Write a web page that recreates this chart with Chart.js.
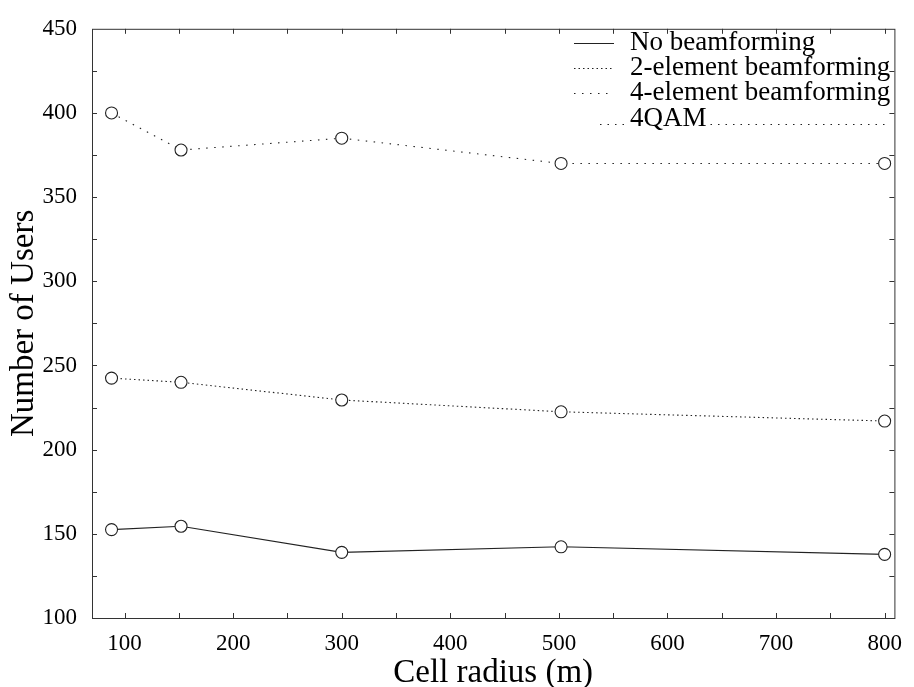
<!DOCTYPE html>
<html>
<head>
<meta charset="utf-8">
<title>Number of Users vs Cell radius</title>
<script src="https://cdn.jsdelivr.net/npm/chart.js@4.4.1/dist/chart.umd.min.js"></script>
<style>
    html, body { margin: 0; padding: 0; background: #fff; }
    #usersChart { display: block; }
</style>
</head>
<body>
<canvas id="usersChart" width="914" height="687"></canvas>
<script>
// Cell radius (m) for each simulation point
const cellRadius = [88, 152, 300, 502, 800];

// Number of users, 4QAM
const noBeamforming = [152.5, 154.5, 139, 142.3, 137.8];
const twoElement = [242.5, 240, 229.5, 222.5, 217];
const fourElement = [400, 378, 385, 370, 370];

const xTicks = [100, 200, 300, 400, 500, 600, 700, 800];
const yTicks = [100, 150, 200, 250, 300, 350, 400, 450];
const legendLabels = ['No beamforming', '2-element beamforming', '4-element beamforming', '4QAM'];

const SERIF = "'Liberation Serif', 'DejaVu Serif', serif";
const INK = '#222';

function toPoints(values) {
    return values.map((v, i) => ({ x: cellRadius[i], y: v }));
}

function series(label, values, dash) {
    return {
        label,
        data: toPoints(values),
        borderColor: INK,
        borderWidth: 1.1,
        borderDash: dash,
        tension: 0,
        pointRadius: 6,
        pointStyle: 'circle',
        pointBorderColor: INK,
        pointBorderWidth: 1.1,
        pointBackgroundColor: '#fff'
    };
}

// frame with inward ticks on all four sides
const framePlugin = {
    id: 'frame',
    afterDraw(chart) {
        const { ctx, chartArea: a, scales } = chart;
        ctx.save();
        ctx.strokeStyle = '#333';
        ctx.lineWidth = 1;
        ctx.setLineDash([]);
        ctx.strokeRect(a.left + 0.5, a.top + 0.5, a.right - a.left, a.bottom - a.top);
        ctx.beginPath();
        for (let v = 100; v <= 800; v += 50) {
            const px = Math.round(scales.x.getPixelForValue(v)) + 0.5;
            ctx.moveTo(px, a.bottom); ctx.lineTo(px, a.bottom - 5);
            ctx.moveTo(px, a.top); ctx.lineTo(px, a.top + 5);
        }
        for (let v = 125; v < 450; v += 25) {
            const py = Math.round(scales.y.getPixelForValue(v)) + 0.5;
            ctx.moveTo(a.left, py); ctx.lineTo(a.left + 5, py);
            ctx.moveTo(a.right, py); ctx.lineTo(a.right - 5, py);
        }
        ctx.stroke();
        ctx.restore();
    }
};

// legend inside the plot, top right
const legendPlugin = {
    id: 'insideLegend',
    afterDraw(chart) {
        const { ctx } = chart;
        const sets = chart.data.datasets;
        const lineX0 = 574, lineX1 = 614, textX = 630;
        const rowY = [43, 68, 93, 119];
        ctx.save();
        ctx.font = `27px ${SERIF}`;
        ctx.textBaseline = 'middle';
        ctx.fillStyle = '#000';
        legendLabels.forEach((label, i) => {
            const y = rowY[i];
            ctx.strokeStyle = INK;
            ctx.lineWidth = 1.1;
            if (i < sets.length) {
                ctx.setLineDash(sets[i].borderDash || []);
                ctx.beginPath();
                ctx.moveTo(lineX0, y + 0.5);
                ctx.lineTo(lineX1, y + 0.5);
                ctx.stroke();
            } else {
                // 4QAM row: dotted rule broken by the label
                const w = ctx.measureText(label).width;
                ctx.setLineDash([1.5, 6]);
                ctx.beginPath();
                ctx.moveTo(600, y + 5.5); ctx.lineTo(textX - 3, y + 5.5);
                ctx.moveTo(textX + w + 4, y + 5.5); ctx.lineTo(888, y + 5.5);
                ctx.stroke();
            }
            ctx.setLineDash([]);
            ctx.fillText(label, textX, y);
        });
        ctx.restore();
    }
};

const tickFont = { family: SERIF, size: 23 };

new Chart(document.getElementById('usersChart').getContext('2d'), {
    type: 'line',
    data: {
        datasets: [
            series(legendLabels[0], noBeamforming, []),
            series(legendLabels[1], twoElement, [1.5, 3]),
            series(legendLabels[2], fourElement, [1.5, 6.5])
        ]
    },
    options: {
        responsive: false,
        animation: false,
        layout: { padding: { top: 17, right: 10, left: 0, bottom: 0 } },
        plugins: {
            legend: { display: false },
            tooltip: { enabled: false }
        },
        scales: {
            x: {
                type: 'linear',
                min: 70,
                max: 809,
                afterBuildTicks: s => { s.ticks = xTicks.map(v => ({ value: v })); },
                afterFit: s => { s.height = 69; },
                grid: { display: false, drawTicks: false },
                border: { display: false },
                ticks: { font: tickFont, color: '#000', padding: 12, maxRotation: 0, autoSkip: false },
                title: {
                    display: true,
                    text: 'Cell radius (m)',
                    color: '#000',
                    padding: 0,
                    font: { family: SERIF, size: 33, lineHeight: 0.8 }
                }
            },
            y: {
                type: 'linear',
                min: 100,
                max: 450,
                afterBuildTicks: s => { s.ticks = yTicks.map(v => ({ value: v })); },
                afterFit: s => { s.width = 92; },
                grid: { display: false, drawTicks: false },
                border: { display: false },
                ticks: { font: tickFont, color: '#000', padding: 15, autoSkip: false },
                title: {
                    display: true,
                    text: 'Number of Users',
                    color: '#000',
                    padding: 0,
                    font: { family: SERIF, size: 33, lineHeight: 1.45 }
                }
            }
        }
    },
    plugins: [framePlugin, legendPlugin]
});
</script>
</body>
</html>
